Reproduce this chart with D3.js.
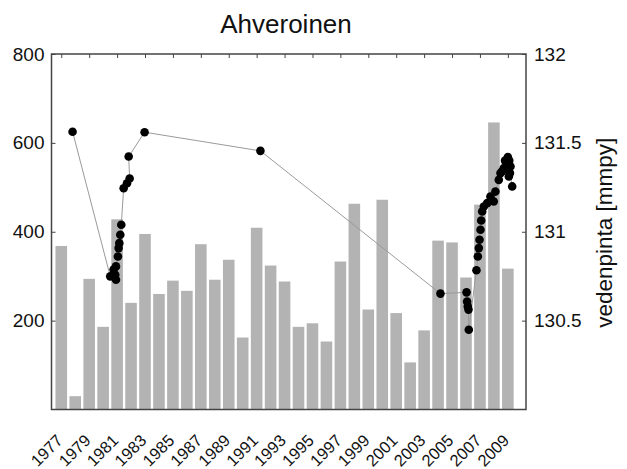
<!DOCTYPE html>
<html>
<head>
<meta charset="utf-8">
<script src="https://cdn.jsdelivr.net/npm/d3@7"></script>
<style>
  html, body { margin: 0; padding: 0; background: #fff; }
  svg { display: block; font-family: "Liberation Sans", Arial, sans-serif; }
</style>
</head>
<body>
<svg id="chart" width="627" height="469"></svg>
<script>
// ---- data ----
const title = "Ahveroinen";
const rightLabel = "vedenpinta [mmpy]";
const years = [1977,1978,1979,1980,1981,1982,1983,1984,1985,1986,1987,1988,1989,1990,1991,1992,1993,1994,1995,1996,1997,1998,1999,2000,2001,2002,2003,2004,2005,2006,2007,2008,2009];
const barValues = [368,30,294,186,428,240,395,260,290,267,372,292,337,162,409,324,288,186,194,153,333,463,225,472,217,106,178,380,376,297,461,646,317];
const levelDates = [1977.81,1980.51,1980.75,1980.92,1980.87,1980.92,1981.06,1981.11,1981.16,1981.23,1981.30,1981.47,1981.71,1981.90,1981.83,1982.97,1991.27,2004.17,2006.04,2006.08,2006.13,2006.18,2006.20,2006.75,2006.85,2006.92,2006.97,2007.04,2007.09,2007.16,2007.28,2007.52,2007.75,2007.99,2008.11,2008.35,2008.47,2008.60,2008.71,2008.80,2008.95,2009.00,2009.10,2009.07,2009.19,2009.15,2009.31];
const levelValues = [131.563,130.749,130.787,130.73,130.758,130.805,130.861,130.908,130.936,130.983,131.039,131.245,131.273,131.30,131.423,131.56,131.455,130.652,130.659,130.608,130.58,130.562,130.449,130.783,130.861,130.908,130.955,131.011,131.063,131.114,131.142,131.161,131.198,131.17,131.226,131.292,131.33,131.34,131.358,131.40,131.386,131.42,131.40,131.311,131.367,131.33,131.255];
const leftTicks = [200,400,600,800];
const rightTicks = [130.5,131,131.5,132];
const yearTicks = [1977,1979,1981,1983,1985,1987,1989,1991,1993,1995,1997,1999,2001,2003,2005,2007,2009];

// ---- layout ----
const svg = d3.select("#chart");
const L = 51.5, R = 526, T = 54, B = 409.5;

const x = d3.scaleLinear().domain([1976.3, 2010.3]).range([L, R]);
const yL = d3.scaleLinear().domain([0, 800]).range([B, T]);
const yR = d3.scaleLinear().domain([130, 132]).range([B, T]);
const step = x(1978) - x(1977);
const barW = step * 0.83;

// title
svg.append("text").attr("x", 286).attr("y", 33).attr("text-anchor", "middle")
  .style("font-size", "26px").attr("fill", "#111").text(title);

// bars
svg.append("g").selectAll("rect").data(years).join("rect")
  .attr("x", (d) => x(d) - barW / 2)
  .attr("width", barW)
  .attr("y", (d, i) => yL(barValues[i]))
  .attr("height", (d, i) => B - yL(barValues[i]))
  .attr("fill", "#b3b3b3");

// line + dots
const pts = levelDates.map((d, i) => [d, levelValues[i]]);
svg.append("path").datum(pts)
  .attr("fill", "none").attr("stroke", "#9a9a9a").attr("stroke-width", 1)
  .attr("d", d3.line().x((d) => x(d[0])).y((d) => yR(d[1])));
svg.append("g").selectAll("circle").data(pts).join("circle")
  .attr("cx", (d) => x(d[0])).attr("cy", (d) => yR(d[1])).attr("r", 4.3)
  .attr("fill", "#000");

// axes
const axL = svg.append("g").attr("transform", `translate(${L},0)`)
  .call(d3.axisLeft(yL).tickValues(leftTicks).tickSize(-4).tickPadding(7));
const axR = svg.append("g").attr("transform", `translate(${R},0)`)
  .call(d3.axisRight(yR).tickValues(rightTicks).tickFormat(d3.format("")).tickSize(-4).tickPadding(8));
const axT = svg.append("g").attr("transform", `translate(0,${T})`)
  .call(d3.axisTop(x).tickValues(yearTicks).tickSize(-4).tickFormat(""));
const axB = svg.append("g").attr("transform", `translate(0,${B})`)
  .call(d3.axisBottom(x).tickValues(yearTicks).tickSize(0).tickFormat(d3.format("d")));

[axL, axR, axT, axB].forEach((g) => {
  g.select(".domain").remove();
  g.selectAll(".tick line").attr("stroke", "#444").attr("stroke-width", 1);
  g.selectAll("text").attr("fill", "#111").style("font-size", "19px").style("font-family", "Liberation Sans, Arial, sans-serif");
});
axB.selectAll(".tick text")
  .attr("text-anchor", "end")
  .attr("dy", null)
  .attr("y", 0)
  .attr("transform", "translate(2,32) rotate(-45)")
  .style("font-size", "16.5px");

// frame
svg.append("rect").attr("x", L).attr("y", T).attr("width", R - L).attr("height", B - T)
  .attr("fill", "none").attr("stroke", "#444").attr("stroke-width", 1.5);

// right label
svg.append("text")
  .attr("transform", `translate(612,${(T + B) / 2 + 1}) rotate(-90)`)
  .attr("text-anchor", "middle")
  .style("font-size", "22.5px").attr("fill", "#111").text(rightLabel);
</script>
</body>
</html>
